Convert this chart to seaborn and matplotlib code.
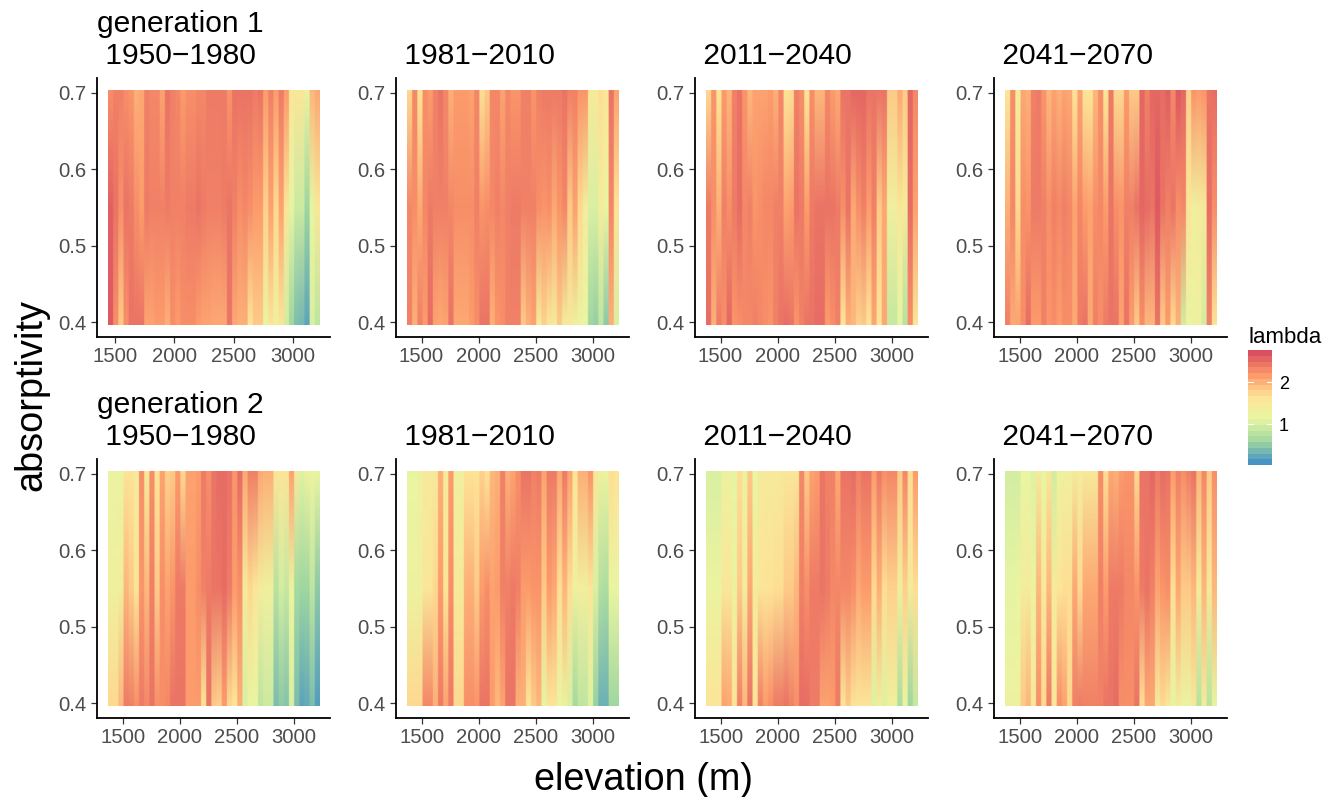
import numpy as np
import pandas as pd
import matplotlib
matplotlib.use("Agg")
import matplotlib.pyplot as plt
from matplotlib.cm import ScalarMappable
from matplotlib.colors import Normalize, to_rgb
from matplotlib.patches import Rectangle
import seaborn as sns

# valores leidos a ojo del grafico: lambda en tres alturas de absorptividad
periods = ["1950\u22121980", "1981\u22122010", "2011\u22122040", "2041\u22122070"]
generations = ["generation 1", "generation 2"]
absorptivity = [0.396, 0.55, 0.704]  # borde inferior, centro, borde superior

# rango de elevacion de cada panel
elev_g1 = [(1435, 3224), (1369, 3227), (1369, 3224), (1367, 3224)]
elev_g2 = [(1367, 3224), (1367, 3224), (1367, 3224), (1367, 3224)]

g1_p1_top = [2.3,2.4,2.4,2.3,2.25,2.05,2.1,2.4,2.35,2.35,2.15,2.5,2.4,2.35,2.2,2.3,2.3,2.35,2.35,2.45,2.45,2.45,2.45,2.25,2.5,2.5,2.5,2.5,2.45,2.5,2.2,2.4,2.2,2.45,2.2,1.6,1.55,1.55,1.25,2.0,2.1]
g1_p1_mid = [2.65,2.5,2.3,2.5,2.45,2.3,2.2,2.45,2.4,2.4,2.4,2.45,2.4,2.4,2.4,2.45,2.45,2.5,2.45,2.4,2.4,2.4,2.45,2.5,2.4,2.3,2.35,2.3,2.2,2.2,1.8,2.15,1.75,2.15,1.6,1.1,0.9,0.9,0.55,1.1,1.55]
g1_p1_low = [2.7,2.3,1.85,2.3,2.5,2.5,2.5,2.15,2.15,2.2,2.2,2.05,2.3,2.2,2.3,2.3,2.3,2.2,2.15,2.15,2.1,2.1,2.1,2.5,2.1,2.05,2.05,1.65,1.85,1.85,1.15,1.6,1.3,1.6,0.95,0.55,0.35,0.3,0.15,1.0,0.8]

g1_p2_top = [1.75,2.35,1.65,2.3,2.2,2.4,2.5,2.35,2.05,2.2,2.2,2.2,2.15,2.35,1.7,1.85,2.35,2.35,2.15,2.35,2.25,2.25,2.4,2.4,2.25,2.4,2.45,2.45,2.45,2.45,2.5,2.4,2.4,2.25,2.25,1.5,1.5,1.7,1.6,2.5,2.15]
g1_p2_mid = [2.35,2.3,2.1,2.35,2.45,2.4,2.4,2.4,2.35,2.3,2.3,2.3,2.3,2.4,2.25,2.3,2.35,2.4,2.35,2.4,2.45,2.45,2.4,2.4,2.4,2.3,2.25,2.3,2.1,2.25,2.35,1.85,2.15,1.75,1.4,1.0,1.0,1.4,1.15,2.35,1.65]
g1_p2_low = [2.4,2.05,2.4,2.2,2.55,2.15,2.1,2.15,2.5,2.1,2.1,2.1,2.2,2.3,2.5,2.5,2.05,2.25,2.3,2.4,2.4,2.4,1.85,2.05,2.15,1.4,1.8,1.55,1.45,1.85,1.35,1.5,1.25,1.2,1.15,0.55,0.5,0.8,0.45,2.05,1.0]

g1_p3_top = [1.75,2.25,1.6,2.2,2.0,2.4,2.5,2.25,2.0,2.15,2.15,2.15,2.2,2.05,2.35,1.65,1.7,2.4,2.3,1.6,2.3,2.0,2.0,2.35,2.2,2.1,2.5,2.5,2.6,2.6,2.6,2.5,2.5,2.5,2.5,1.85,1.85,2.1,1.85,2.6,2.35]
g1_p3_mid = [2.45,2.3,2.05,2.4,2.3,2.45,2.55,2.35,2.4,2.25,2.3,2.35,2.35,2.4,2.4,2.15,2.2,2.5,2.45,2.2,2.45,2.5,2.5,2.5,2.5,2.45,2.3,2.5,2.1,2.3,2.4,2.2,2.4,1.85,2.1,1.3,1.35,1.55,1.45,2.55,2.15]
g1_p3_low = [2.55,2.05,2.45,2.3,2.6,2.25,2.3,2.35,2.35,2.4,2.35,2.3,2.25,2.4,2.5,2.55,2.5,2.25,2.4,2.5,2.5,2.55,2.55,2.2,2.3,2.4,1.65,2.05,2.0,1.8,1.85,1.65,2.1,1.6,2.1,0.85,0.85,1.1,0.75,2.3,1.55]

g1_p4_top = [1.55,2.3,1.35,2.1,2.05,2.4,2.45,2.25,2.0,2.15,2.05,2.15,2.1,1.65,2.15,1.6,1.6,2.0,2.3,1.55,2.45,1.75,1.75,2.2,1.85,1.85,2.6,2.4,2.6,2.6,2.55,2.65,2.35,2.7,2.6,1.8,2.25,2.2,2.25,2.5,2.55]
g1_p4_mid = [2.05,2.35,1.75,2.3,2.25,2.45,2.45,2.4,2.3,2.4,2.35,2.4,2.35,2.15,2.35,2.2,2.15,2.3,2.35,2.2,2.5,2.3,2.25,2.4,2.4,2.5,2.6,2.55,2.5,2.7,2.5,2.4,2.5,2.3,2.35,1.6,1.3,1.4,1.5,2.55,2.3]
g1_p4_low = [2.4,2.1,2.15,2.3,2.55,2.2,2.2,2.4,2.25,2.3,2.2,2.3,2.3,2.1,2.45,2.5,2.1,2.4,2.3,2.45,2.5,2.5,2.15,2.5,2.2,1.85,2.3,2.0,2.0,2.5,1.85,2.2,1.75,2.05,0.95,1.2,1.25,1.3,0.95,2.4,1.65]

g2_p1_top = [1.2,1.2,1.2,1.65,1.65,1.4,2.3,1.45,2.3,1.65,2.15,1.8,1.85,2.2,1.75,2.15,2.15,2.2,2.45,2.3,2.5,2.55,2.55,2.5,2.25,2.55,2.1,2.4,2.4,2.1,2.05,2.05,1.6,1.6,1.6,2.15,1.45,1.05,1.25,1.2,1.15]
g2_p1_mid = [1.3,1.3,1.35,2.0,1.85,1.65,2.25,2.0,2.4,1.85,2.3,2.15,2.25,2.45,2.45,2.2,2.2,2.3,2.4,2.45,2.5,2.5,2.55,2.45,2.2,2.3,1.45,1.75,1.6,1.4,1.3,1.3,0.75,0.95,0.85,1.2,0.6,0.55,0.55,0.8,0.45]
g2_p1_low = [1.75,1.75,2.0,2.45,2.4,2.3,2.45,2.35,2.5,2.3,2.3,2.35,2.5,2.5,2.5,2.2,2.2,2.2,1.6,2.5,1.85,1.8,2.2,1.75,1.6,2.05,1.0,1.15,1.15,0.8,0.9,0.9,0.35,0.45,0.4,1.0,0.35,0.15,0.2,0.35,0.1]

g2_p2_top = [1.15,1.15,1.25,1.5,1.5,1.5,2.05,1.45,2.2,1.3,1.3,1.65,1.65,1.65,1.8,1.65,2.0,2.05,2.4,2.05,2.15,2.3,2.5,2.5,2.4,2.45,2.15,2.45,2.45,2.1,2.45,2.15,1.65,2.05,2.05,2.25,1.55,1.3,1.2,1.7,1.65]
g2_p2_mid = [1.25,1.25,1.3,1.55,1.6,1.75,2.2,1.6,2.3,1.5,1.5,2.05,2.05,1.85,2.2,2.3,2.15,2.2,2.4,2.4,2.45,2.4,2.2,2.2,2.25,2.25,1.85,2.2,2.1,1.7,2.0,1.7,1.3,1.35,1.3,1.6,1.0,0.7,0.65,1.15,1.15]
g2_p2_low = [1.75,1.75,1.75,2.35,2.35,2.05,2.45,2.15,2.45,1.75,1.75,2.3,2.3,2.25,2.5,2.5,2.2,2.0,2.15,2.5,2.5,2.05,2.05,1.55,1.85,2.0,1.1,1.6,1.6,1.15,1.25,1.0,0.6,0.8,0.8,1.05,0.5,0.25,0.25,0.55,0.55]

g2_p3_top = [1.0,1.0,1.0,1.25,1.25,1.1,1.7,1.25,1.85,1.15,1.45,1.5,1.5,1.45,1.5,1.55,1.55,1.55,2.35,1.85,2.15,2.2,2.5,2.4,2.4,2.1,2.5,2.5,2.55,2.4,2.5,2.5,2.2,2.45,2.3,2.35,2.35,1.85,2.35,1.7,2.2]
g2_p3_mid = [1.2,1.2,1.2,1.55,1.55,1.25,1.85,1.4,2.1,1.45,1.6,1.65,1.65,1.7,1.7,1.85,1.85,2.0,2.4,2.3,2.45,2.45,2.5,2.45,2.35,2.35,2.35,2.35,2.3,2.1,2.2,2.2,1.75,2.05,1.7,1.8,1.8,1.35,1.8,1.45,1.7]
g2_p3_low = [1.6,1.6,1.6,2.15,2.1,1.65,2.4,2.0,2.5,1.65,2.4,2.2,2.3,2.45,2.45,2.5,2.4,2.3,2.55,2.55,2.45,2.45,2.15,2.15,2.2,2.45,1.55,1.85,1.65,1.6,1.6,1.6,1.05,1.35,1.05,1.3,1.3,0.65,1.2,0.55,0.85]

g2_p4_top = [0.95,0.95,0.95,1.15,1.15,1.05,1.45,1.15,1.55,0.95,1.25,1.3,1.3,1.45,1.4,1.5,1.5,1.5,2.3,1.7,2.1,2.05,2.2,2.25,2.25,1.75,2.5,2.5,2.6,2.45,2.55,2.5,2.2,2.4,2.3,2.4,2.5,2.0,2.35,1.85,2.3]
g2_p4_mid = [1.1,1.1,1.15,1.4,1.45,1.2,2.0,1.5,2.0,1.45,1.6,1.7,1.7,2.1,1.75,2.1,2.1,2.1,2.4,2.2,2.45,2.45,2.45,2.35,2.35,2.25,2.45,2.5,2.4,2.15,2.25,2.3,1.7,2.1,1.85,1.85,2.0,1.45,2.0,1.5,2.0]
g2_p4_low = [1.25,1.25,1.25,1.85,2.0,1.5,2.3,1.75,2.45,1.55,2.3,2.15,1.75,2.4,2.45,2.4,2.4,2.4,2.4,2.5,2.5,2.55,2.3,2.3,2.3,2.5,1.7,2.1,2.1,1.45,1.75,1.55,1.1,1.4,1.2,1.2,1.5,0.75,1.4,0.75,1.1]

panels_g1 = [(g1_p1_low, g1_p1_mid, g1_p1_top), (g1_p2_low, g1_p2_mid, g1_p2_top),
             (g1_p3_low, g1_p3_mid, g1_p3_top), (g1_p4_low, g1_p4_mid, g1_p4_top)]
panels_g2 = [(g2_p1_low, g2_p1_mid, g2_p1_top), (g2_p2_low, g2_p2_mid, g2_p2_top),
             (g2_p3_low, g2_p3_mid, g2_p3_top), (g2_p4_low, g2_p4_mid, g2_p4_top)]

lambda_colours = ["#3288BD", "#99D594", "#E6F598", "#FEE08B", "#FC8D59", "#D53E4F"]
lambda_range = (0.02, 2.775)
tile_alpha = 0.9


def long_table():
    rows = []
    for gen, panels, limits in [(generations[0], panels_g1, elev_g1), (generations[1], panels_g2, elev_g2)]:
        for period, panel, (lo, hi) in zip(periods, panels, limits):
            n = len(panel[0])
            step = (hi - lo) / n
            for a, values in zip(absorptivity, panel):
                for i, v in enumerate(values):
                    rows.append((gen, period, lo + (i + 0.5) * step, a, v))
    return pd.DataFrame(rows, columns=["generation", "period", "elevation", "absorptivity", "lambda"])


sns.set_theme(style="ticks")
plt.rcParams["font.family"] = ["Liberation Sans", "DejaVu Sans"]

# mezclar con blanco en vez de usar alpha
faded = [tuple(tile_alpha * c + (1 - tile_alpha) for c in to_rgb(h)) for h in lambda_colours]
spectral = sns.blend_palette(faded, n_colors=256, as_cmap=True)
norm = Normalize(*lambda_range)


def draw_tiles(data, **kws):
    ax = plt.gca()
    tbl = data.pivot(index="absorptivity", columns="elevation", values="lambda")
    centres = tbl.columns.to_numpy()
    half = (centres[1] - centres[0]) / 2
    left, right = centres[0] - half, centres[-1] + half
    ys = tbl.index.to_numpy()
    # columnas nitidas, degradado solo en vertical: el centro de la primera y
    # ultima fila de la imagen cae en el borde de las tiles y se recorta lo demas
    row_h = ys[1] - ys[0]
    img = np.repeat(tbl.to_numpy(), 20, axis=1)
    im = ax.imshow(img, origin="lower", aspect="auto", interpolation="bilinear", cmap=spectral, norm=norm,
                   extent=(left, right, ys[0] - row_h / 2, ys[-1] + row_h / 2))
    im.set_clip_path(Rectangle((left, ys[0]), right - left, ys[-1] - ys[0], transform=ax.transData))


df = long_table()
g = sns.FacetGrid(df, row="generation", col="period", row_order=generations, col_order=periods,
                  sharex=False, sharey=False, height=3, aspect=1.1)
g.map_dataframe(draw_tiles)
g.set_axis_labels("", "")
g.set_titles("")
g.figure.set_size_inches(13.33, 7.97)
g.figure.subplots_adjust(left=97 / 1333, right=1227 / 1333, top=1 - 78 / 797, bottom=1 - 718 / 797,
                         wspace=66 / 233, hspace=122 / 260)

for r, limits in enumerate([elev_g1, elev_g2]):
    for c, (lo, hi) in enumerate(limits):
        ax = g.axes[r, c]
        pad = (hi - lo) * 0.05
        ax.set_xlim(lo - pad, hi + pad)
        ax.set_ylim(0.3804, 0.7196)
        ax.set_xticks([1500, 2000, 2500, 3000])
        ax.set_yticks([0.4, 0.5, 0.6, 0.7])
        ax.tick_params(length=4.4, width=0.9, color="#333333", labelcolor="#4D4D4D", labelsize=14.6, pad=3,
                       left=True, bottom=True, labelleft=True, labelbottom=True)
        for side in ["left", "bottom"]:
            ax.spines[side].set_linewidth(1.3)
            ax.spines[side].set_color("black")
        label = " " + periods[c]
        if c == 0:
            label = generations[r] + "\n" + label
        ax.set_title(label, loc="left", fontsize=21.6, pad=10, color="black", linespacing=1.18)

g.figure.text(643 / 1333, 1 - 790 / 797, "elevation (m)", fontsize=27.3, ha="center", va="baseline", color="black")
g.figure.text(49 / 1333, 1 - 395 / 797, "absorptivity", fontsize=27.3, rotation=90, ha="right", va="center", color="black")

# leyenda de lambda con 20 bandas
cax = g.figure.add_axes([1248 / 1333, 1 - 465 / 797, 24 / 1333, 115 / 797])
cbar = g.figure.colorbar(ScalarMappable(norm=norm, cmap=spectral.resampled(20)), cax=cax, ticks=[1, 2])
cbar.outline.set_visible(False)
cax.tick_params(length=0, labelsize=13, pad=5, colors="black")
for t in [1, 2]:
    cax.plot([0, 0.2], [t, t], color="white", lw=0.8)
    cax.plot([0.8, 1], [t, t], color="white", lw=0.8)
g.figure.text(1249 / 1333, 1 - 343 / 797, "lambda", fontsize=16, ha="left", va="baseline", color="black")

g.figure.savefig("out.png", dpi=100)
